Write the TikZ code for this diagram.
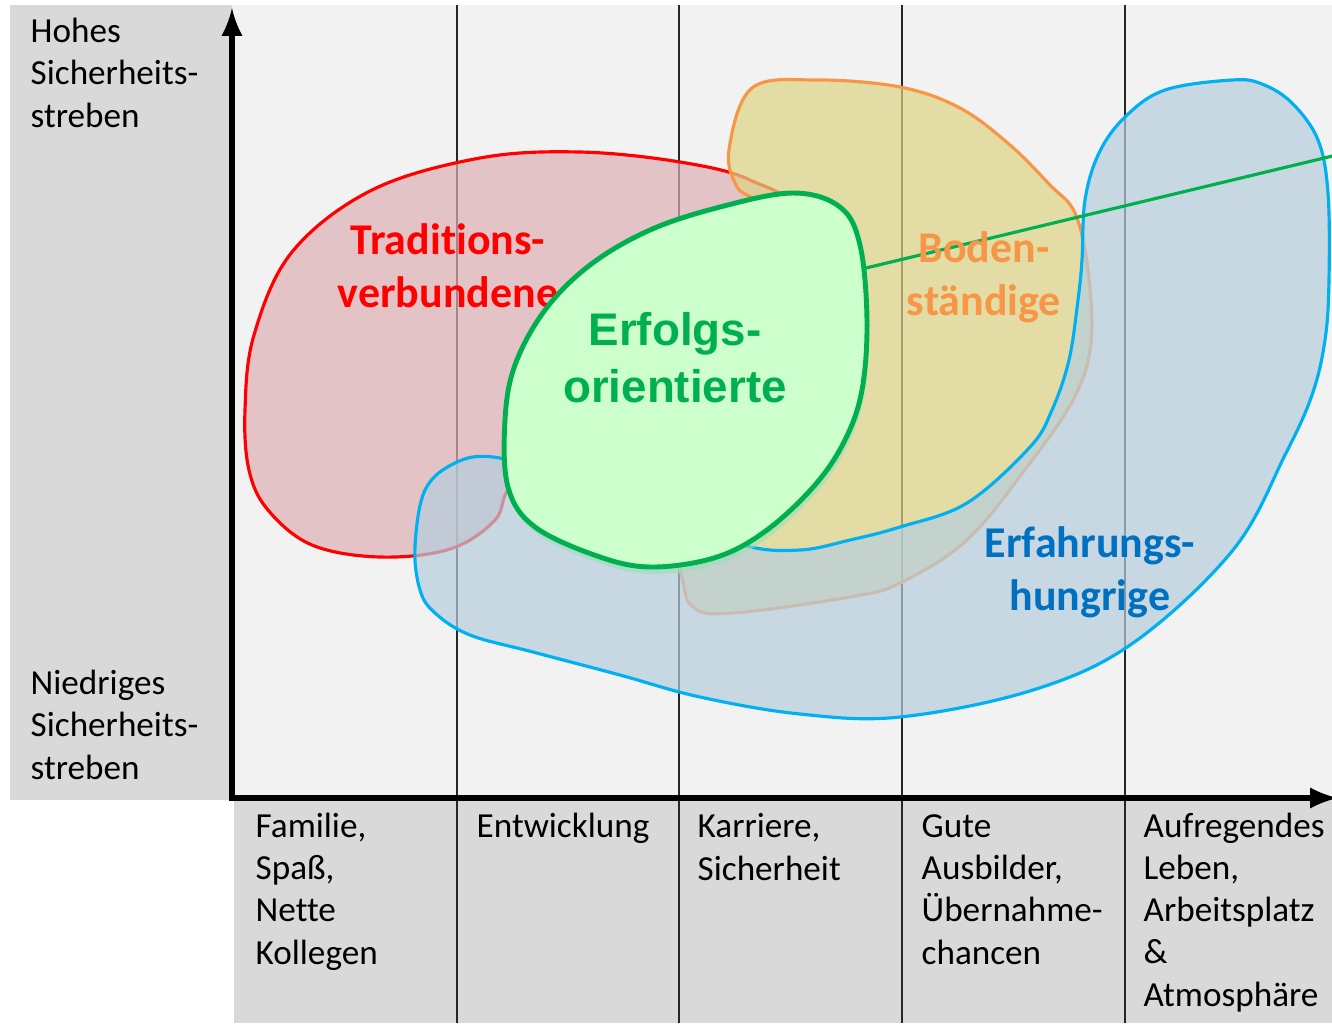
\documentclass[tikz,border=0pt]{standalone}
\usepackage{fontspec}
\setmainfont{Carlito}[Ligatures=NoCommon]
\newfontfamily\arialfont{Liberation Sans}
\usepackage{tikz}
\usepackage{xcolor}

\definecolor{rahmengrau}{HTML}{D9D9D9}
\definecolor{flaechengrau}{HTML}{F2F2F2}
\definecolor{traditionsrot}{HTML}{FF0000}
\definecolor{traditionsfill}{HTML}{DDB0B3}
\definecolor{bodenorange}{HTML}{F79646}
\definecolor{bodenfill}{HTML}{DFD385}
\definecolor{erfahrungsblau}{HTML}{00B0F0}
\definecolor{erfahrungsfill}{HTML}{B5CEDE}
\definecolor{erfahrungstext}{HTML}{0070C0}
\definecolor{erfolgsgruen}{HTML}{00B050}
\definecolor{erfolgsfill}{HTML}{CCFFCC}

\tikzset{
  achsentext/.style={font=\fontsize{10}{12}\selectfont, align=left, anchor=base west, inner sep=0pt},
  gruppentext/.style={font=\fontsize{12.5}{14.8}\selectfont\bfseries, align=center, anchor=base, inner sep=0pt},
  blob/.style={line width=.9pt, fill opacity=.7},
}

\begin{document}
\begin{tikzpicture}[x=0.01cm, y=-0.01cm]
  \useasboundingbox (0,0) rectangle (1332,1023);
  \fill [rahmengrau] (10,5) rectangle (232,800);
  \fill [flaechengrau] (232,5) rectangle (1332,800);
  \fill [rahmengrau] (234,800) rectangle (1332,1023);
  \foreach \x in {457,679,902,1125}
    \draw [line width=.45pt, black!85] (\x,5) -- (\x,1023);

  % Traditionsverbundene
  \draw [blob, traditionsrot, fill=traditionsfill] plot [smooth cycle, tension=.6] coordinates {
    (245,410) (254,335) (292,252) (372,190) (480,158) (580,152) (680,162) (750,180) (790,215)
    (700,300) (600,400) (515,480) (495,520) (450,549) (380,557) (312,545) (268,510) (249,470)};
  \node [gruppentext, traditionsrot] (tradition) at (448,307) {Traditions-\\verbundene};

  % Bodenstaendige
  \draw [blob, bodenorange, fill=bodenfill] plot [smooth cycle, tension=.6] coordinates {
    (729,150) (752,88) (817,80) (900,87) (960,108) (1010,145) (1050,185) (1075,213) (1088,270)
    (1091,343) (1073,400) (1027,467) (967,540) (900,583) (850,597) (733,613) (693,607) (680,570)
    (650,450) (700,300) (760,215) (737,187)};

  % Erfahrungshungrige
  \draw [blob, erfahrungsblau, fill=erfahrungsfill] plot [smooth cycle, tension=.6] coordinates {
    (493,457) (455,463) (425,490) (415,547) (420,590) (435,613) (470,635) (533,652) (620,675)
    (700,697) (800,714) (900,717) (1033,690) (1133,643) (1233,550) (1285,455) (1312,395)
    (1325,340) (1329,280) (1328,193) (1318,140) (1292,103) (1262,84) (1232,80) (1165,90)
    (1125,117) (1099,153) (1085,200) (1082,260) (1078,300) (1069,360) (1052,410) (1030,447)
    (967,503) (900,527) (850,540) (800,550) (743,545) (650,510) (560,475)};

  % Erfolgsorientierte
  \draw [erfolgsgruen, line width=1.4pt, fill=erfolgsfill,
    preaction={fill=erfolgsgruen!40, fill opacity=.6, transform canvas={shift={(2,7)}}}]
    plot [smooth cycle, tension=.6] coordinates {
    (793,193) (840,207) (860,245) (867,320) (862,390) (845,440) (815,485) (767,530) (717,557)
    (653,567) (600,557) (535,527) (508,487) (505,420) (515,365) (545,310) (590,265) (650,230)
    (720,207)};
  \node [gruppentext, erfolgsgruen, font=\arialfont\fontsize{13}{16.2}\selectfont\bfseries]
    (erfolg) at (675,402) {Erfolgs-\\orientierte};

  \coordinate (erfolgsrand) at (866,268);
  \coordinate (linienende) at (1345,153);
  \draw [erfolgsgruen, line width=.9pt] (erfolgsrand) -- (linienende);

  \node [gruppentext, bodenorange] (boden) at (984,315) {Boden-\\ständige};
  \node [gruppentext, erfahrungstext] (erfahrung) at (1090,610) {Erfahrungs-\\hungrige};

  % Achsen
  \coordinate (yspitze) at (232,8);
  \coordinate (ursprung) at (232,798);
  \coordinate (xspitze) at (1338,798);
  \draw [line width=1.7pt, latex-latex] (yspitze) -- (ursprung) -- (xspitze);

  \node [achsentext] (hoch) at (30,127) {Hohes\\Sicherheits-\\streben};
  \node [achsentext] (niedrig) at (30,779) {Niedriges\\Sicherheits-\\streben};
  \node [achsentext] (familie) at (255,964) {Familie,\\Spaß,\\Nette\\Kollegen};
  \node [achsentext] (entwicklung) at (476,837) {Entwicklung};
  \node [achsentext] (karriere) at (697,880) {Karriere,\\Sicherheit};
  \node [achsentext] (ausbilder) at (921,964) {Gute\\Ausbilder,\\Übernahme-\\chancen};
  \node [achsentext] (leben) at (1143,1006) {Aufregendes\\Leben,\\Arbeitsplatz\\\&\\Atmosphäre};
\end{tikzpicture}
\end{document}
